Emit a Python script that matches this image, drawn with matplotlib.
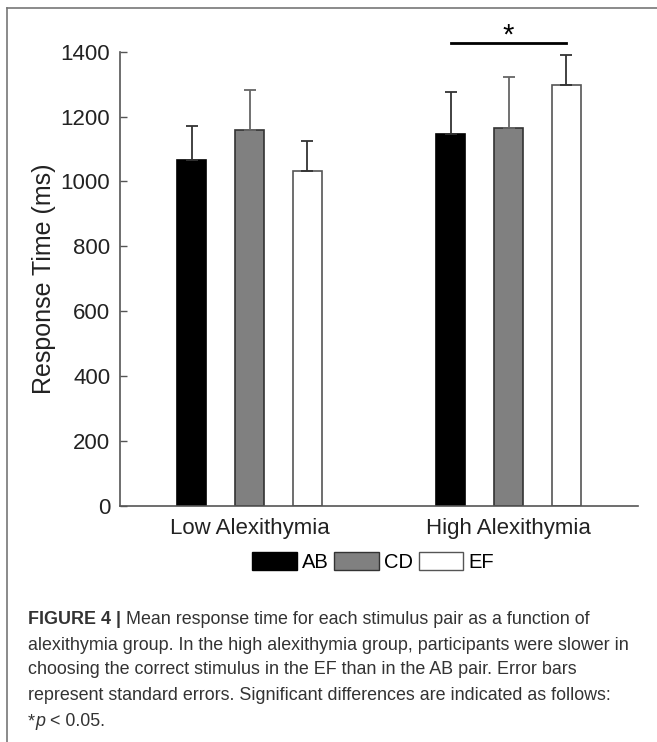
import matplotlib
matplotlib.use("Agg")
import matplotlib.pyplot as plt
from matplotlib.patches import Patch
from matplotlib.lines import Line2D
import numpy as np

plt.rcParams['font.family'] = ['Liberation Sans', 'DejaVu Sans']

# data
groups = ['Low Alexithymia', 'High Alexithymia']
pairs = ['AB', 'CD', 'EF']
mean_ab = [1065, 1145]
mean_cd = [1157, 1166]
mean_ef = [1032, 1297]
se_ab = [107, 131]
se_cd = [124, 156]
se_ef = [93, 92]
sig_level = 1427

means = [mean_ab, mean_cd, mean_ef]
ses = [se_ab, se_cd, se_ef]
fills = ['#000000', '#808080', '#ffffff']
edges = ['#000000', '#333333', '#555555']
err_cols = ['#333333', '#666666', '#333333']

W, H = 657, 742
fig = plt.figure(figsize=(W / 100, H / 100), dpi=100)
ax = fig.add_axes([120 / W, 1 - 505.5 / H, 518 / W, 453.8 / H])

x = np.arange(1, len(groups) + 1)
offset = 0.223
width = 0.113
for i in range(3):
    xs = x + (i - 1) * offset
    ax.bar(xs, means[i], width=width, color=fills[i], edgecolor=edges[i], linewidth=1.2,
           yerr=[np.zeros(len(groups)), ses[i]], capsize=4,
           error_kw=dict(ecolor=err_cols[i], elinewidth=1.3, capthick=1.3), zorder=2)

ax.set_xlim(0.5, 2.5)
ax.set_ylim(0, 1400)
ax.set_yticks(np.arange(0, 1401, 200))
ax.set_xticks(x)
ax.set_xticklabels(groups)
for s in ['top', 'right']:
    ax.spines[s].set_visible(False)
for s in ['left', 'bottom']:
    ax.spines[s].set_color('#555555')
    ax.spines[s].set_linewidth(1.2)
ax.tick_params(axis='y', direction='in', length=5, width=1, color='#555555', pad=7,
               labelsize=16, labelcolor='#222222')
ax.tick_params(axis='x', length=0, pad=9, labelsize=16, labelcolor='#222222')
ax.set_ylabel('Response Time (ms)', fontsize=18, color='#222222', labelpad=3)

# significance bar
x1 = x[1] - offset
x2 = x[1] + offset
ax.plot([x1, x2], [sig_level, sig_level], color='black', lw=2, clip_on=False)
ax.text(x[1], 1424, '*', ha='center', va='baseline', fontsize=21, clip_on=False)

handles = [Patch(facecolor=fills[i], edgecolor=edges[i], linewidth=1.0, label=pairs[i]) for i in range(3)]
fig.legend(handles=handles, loc='center', bbox_to_anchor=(373 / W, 1 - 562 / H), ncol=3,
           frameon=False, fontsize=14.5, handlelength=2.2, handleheight=0.95,
           handletextpad=0.25, columnspacing=0.3, borderpad=0)

# outer frame
fig.add_artist(Line2D([7 / W, 7 / W], [0, 1 - 8 / H], color='#777777', lw=1.2, transform=fig.transFigure))
fig.add_artist(Line2D([7 / W, 1], [1 - 8 / H, 1 - 8 / H], color='#777777', lw=1.2, transform=fig.transFigure))

# caption
cap_size = 12.9
cap_col = '#333333'
x0 = 28 / W
line_y = [619, 645, 670, 696, 722]
renderer = fig.canvas.get_renderer()

def put_parts(parts, ypix):
    xpix = 28
    for txt, kw in parts:
        t = fig.text(xpix / W, 1 - ypix / H, txt, fontsize=cap_size, color=cap_col,
                     va='center', ha='left', **kw)
        bb = t.get_window_extent(renderer=renderer)
        xpix += bb.width

put_parts([('FIGURE 4 |', dict(fontweight='bold')),
           (' Mean response time for each stimulus pair as a function of', {})], line_y[0])
body = ['alexithymia group. In the high alexithymia group, participants were slower in',
        'choosing the correct stimulus in the EF than in the AB pair. Error bars',
        'represent standard errors. Significant differences are indicated as follows:']
for i, line in enumerate(body):
    fig.text(x0, 1 - line_y[i + 1] / H, line, fontsize=cap_size, color=cap_col, va='center', ha='left')
put_parts([('*', {}), ('p', dict(style='italic')), (' < 0.05.', {})], line_y[4])

fig.savefig('out.png', dpi=100)
